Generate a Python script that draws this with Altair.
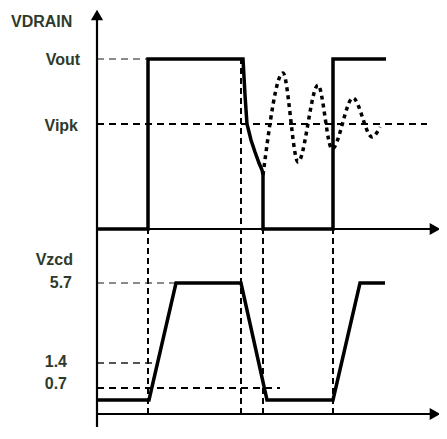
import altair as alt
import pandas as pd

# Diagram coordinates: t = time (arbitrary units), y = diagram height (arbitrary units)
# Drain voltage waveform (solid)
drain_t = [0, 51, 51, 146, 148, 150, 154, 158, 162, 165, 166, 166, 236, 236, 289]
drain_y = [202, 202, 372, 372, 336, 307, 291, 279, 268, 261, 256, 202, 202, 372, 372]

# Ringing (dotted)
ring_t = [166, 186, 201, 221, 235, 256, 275, 283]
ring_y = [256, 358, 269, 346, 282, 333, 294, 304]

# ZCD voltage waveform
zcd_t = [0, 52, 79, 144, 170, 236, 263, 288]
zcd_y = [31, 31, 148, 148, 31, 31, 148, 148]

# Horizontal reference levels
ref_names = ["Vout", "Vipk", "5.7", "1.4", "0.7"]
ref_y = [372, 307, 148, 68, 43]
ref_t_end = [51, 330, 79, 60, 183]
ref_color = ["#8a8a8a", "#000000", "#8a8a8a", "#555555", "#000000"]

# Vertical event markers
vt = [51, 144, 166, 236]
vt_top = [202, 372, 202, 202]
vt_bot = [17, 17, 17, 17]

# Labels
label_text = ["VDRAIN", "Vout", "Vipk", "Vzcd", "5.7", "1.4", "0.7"]
label_t = [-86, -17, -19, -24, -25, -30, -30]
label_y = [409, 371, 305, 171, 148, 69, 47]
label_align = ["left", "right", "right", "right", "right", "right", "right"]

TEXT_COLOR = "#2e3b2c"

X = alt.Scale(domain=[-89, 342])
Y = alt.Scale(domain=[0, 423])

def xq(f):
    return alt.X(f, type="quantitative", scale=X, axis=None)

def yq(f):
    return alt.Y(f, type="quantitative", scale=Y, axis=None)

layers = []

# horizontal reference dashed lines
ref_df = pd.DataFrame({"name": ref_names, "y": ref_y, "t0": [0]*5, "t1": ref_t_end, "c": ref_color})
layers.append(
    alt.Chart(ref_df).mark_rule(strokeWidth=1.8, strokeDash=[7, 5]).encode(
        x=xq("t0"), x2="t1", y=yq("y"), color=alt.Color("c:N", scale=None)
    )
)

# vertical dashed event lines
v_df = pd.DataFrame({"t": vt, "y0": vt_bot, "y1": vt_top})
layers.append(
    alt.Chart(v_df).mark_rule(strokeWidth=2, strokeDash=[6, 4], color="black").encode(
        x=xq("t"), y=yq("y0"), y2="y1"
    )
)

# axes
ax_df = pd.DataFrame({"t0": [0, 0, 0], "t1": [0, 336, 336], "y0": [4, 202, 17], "y1": [414, 202, 17]})
layers.append(
    alt.Chart(ax_df).mark_rule(strokeWidth=2.2, color="black").encode(
        x=xq("t0"), x2="t1", y=yq("y0"), y2="y1"
    )
)
arrow_df = pd.DataFrame({"t": [0, 338, 338], "y": [416, 202, 17], "shape": ["triangle-up", "triangle-right", "triangle-right"]})
layers.append(
    alt.Chart(arrow_df).mark_point(filled=True, color="black", opacity=1, size=150).encode(
        x=xq("t"), y=yq("y"), shape=alt.Shape("shape:N", scale=None)
    )
)

# drain waveform
drain_df = pd.DataFrame({"t": drain_t, "y": drain_y, "o": list(range(len(drain_t)))})
layers.append(
    alt.Chart(drain_df).mark_line(strokeWidth=3.5, color="black", strokeJoin="miter").encode(
        x=xq("t"), y=yq("y"), order="o:Q"
    )
)

# ringing
ring_df = pd.DataFrame({"t": ring_t, "y": ring_y, "o": list(range(len(ring_t)))})
layers.append(
    alt.Chart(ring_df).mark_line(strokeWidth=3.5, color="black", strokeDash=[4, 4], interpolate="monotone").encode(
        x=xq("t"), y=yq("y"), order="o:Q"
    )
)

# zcd waveform
zcd_df = pd.DataFrame({"t": zcd_t, "y": zcd_y, "o": list(range(len(zcd_t)))})
layers.append(
    alt.Chart(zcd_df).mark_line(strokeWidth=3.5, color="black", strokeJoin="miter").encode(
        x=xq("t"), y=yq("y"), order="o:Q"
    )
)

# labels
lab_df = pd.DataFrame({"text": label_text, "t": label_t, "y": label_y, "a": label_align})
for al in ["left", "right"]:
    layers.append(
        alt.Chart(lab_df[lab_df["a"] == al]).mark_text(
            align=al, baseline="middle", fontSize=16, fontWeight="bold",
            font="Liberation Sans", color=TEXT_COLOR
        ).encode(x=xq("t"), y=yq("y"), text="text:N")
    )

chart = alt.layer(*layers).properties(
    width=431, height=423, padding=0, autosize=alt.AutoSizeParams(type="none"),
    background="white"
).configure_view(stroke=None)

chart.save("out.html", embed_options={"renderer": "svg", "actions": False})
